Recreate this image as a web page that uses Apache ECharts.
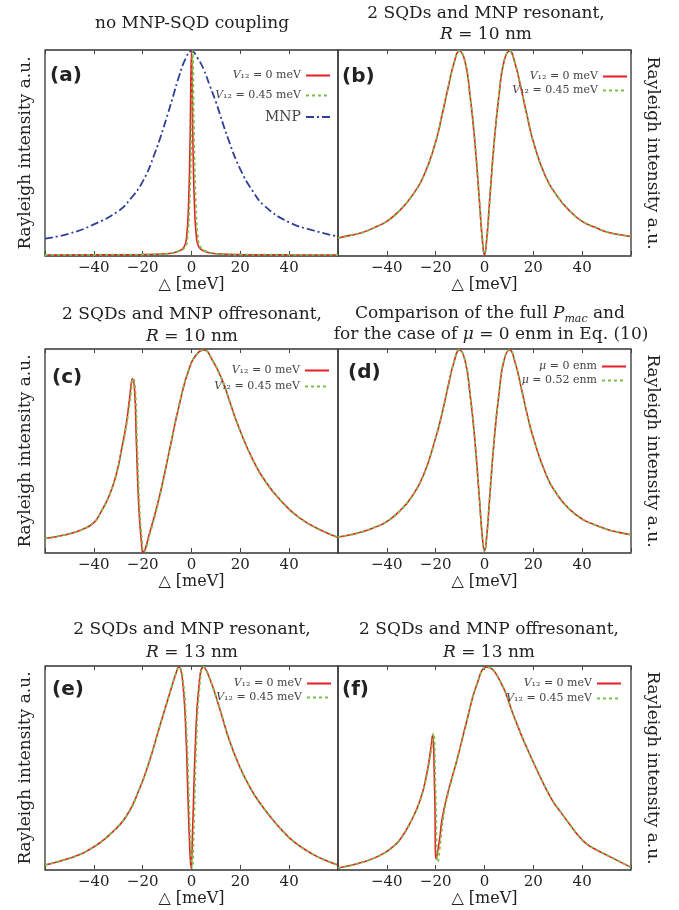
<!DOCTYPE html>
<html>
<head>
<meta charset="utf-8">
<script src="https://cdn.jsdelivr.net/npm/echarts/dist/echarts.min.js"></script>
<style>
  html, body { margin: 0; padding: 0; background: #fff; }
  #chart { width: 679px; height: 910px; }
</style>
</head>
<body>
<div id="chart"></div>
<script>
// (a) no coupling
const aRedX   = [-60, -40, -20, -10, -5, -3, -2, -1.2, -0.6, 0, 0.6, 1.2, 2, 3, 5, 10, 20, 40, 60];
const aRed    = [0, 0.001, 0.002, 0.006, 0.02, 0.04, 0.09, 0.25, 0.55, 1, 0.55, 0.25, 0.09, 0.04, 0.02, 0.006, 0.002, 0.001, 0];
const aGreenX = [-60, -40, -20, -10, -5, -2.6, -1.6, -0.8, -0.1, 0.5, 1.1, 1.8, 2.6, 3.6, 5.6, 10, 20, 40, 60];
const aGreen  = [0, 0.001, 0.002, 0.006, 0.02, 0.04, 0.09, 0.25, 0.55, 1, 0.55, 0.25, 0.09, 0.04, 0.02, 0.006, 0.002, 0.001, 0];
const aMnpX   = [-60, -50, -40, -30, -25, -20, -15, -10, -7.5, -5, -2.5, 0, 2.5, 5, 7.5, 10, 15, 20, 25, 30, 40, 50, 60];
const aMnp    = [0.08, 0.105, 0.15, 0.215, 0.275, 0.36, 0.5, 0.68, 0.78, 0.88, 0.96, 1, 0.965, 0.91, 0.83, 0.75, 0.57, 0.42, 0.315, 0.24, 0.16, 0.12, 0.09];

// (b) resonant, R = 10 nm
const bX     = [-60, -55, -50, -45, -40, -35, -30, -25, -20, -17.5, -15, -12.5, -10.3, -8, -6, -4, -2, -1, 0, 1, 2, 4, 6, 8, 10.3, 12.5, 15, 17.5, 20, 25, 30, 35, 40, 45, 50, 55, 60];
const bRed   = [0.083, 0.096, 0.11, 0.135, 0.165, 0.215, 0.285, 0.385, 0.555, 0.68, 0.815, 0.94, 1, 0.95, 0.79, 0.56, 0.25, 0.09, 0, 0.09, 0.25, 0.56, 0.79, 0.95, 1, 0.94, 0.815, 0.68, 0.555, 0.385, 0.285, 0.215, 0.165, 0.137, 0.113, 0.1, 0.09];
const bGreen = [0.083, 0.096, 0.11, 0.135, 0.165, 0.215, 0.285, 0.385, 0.555, 0.68, 0.815, 0.94, 1, 0.95, 0.79, 0.57, 0.26, 0.1, 0.005, 0.08, 0.24, 0.55, 0.79, 0.95, 1, 0.94, 0.815, 0.68, 0.555, 0.385, 0.285, 0.215, 0.165, 0.137, 0.113, 0.1, 0.09];

// (c) offresonant, R = 10 nm
const cRedX   = [-60, -51, -45, -40, -37, -33.5, -30.7, -28.7, -26.7, -25.3, -24.2, -23.3, -22.6, -21.6, -20.5, -19.9, -17.1, -13.1, -9, -4.9, -0.8, 2.6, 5, 8.7, 12.8, 15.5, 19.6, 25, 30.5, 37.3, 44.1, 52.2, 60];
const cRed    = [0.067, 0.087, 0.11, 0.145, 0.2, 0.285, 0.39, 0.505, 0.636, 0.766, 0.858, 0.8, 0.554, 0.227, 0.047, 0, 0.096, 0.276, 0.505, 0.734, 0.913, 0.985, 1, 0.946, 0.845, 0.75, 0.61, 0.46, 0.345, 0.245, 0.17, 0.113, 0.072];
const cGreenX = [-60, -51, -45, -40, -37, -33.5, -30.7, -28.6, -26.5, -25.0, -23.9, -23.0, -22.3, -21.3, -20.2, -19.6, -16.9, -13.0, -9, -4.9, -0.8, 2.6, 5, 8.7, 12.8, 15.5, 19.6, 25, 30.5, 37.3, 44.1, 52.2, 60];
const cGreen  = [0.067, 0.087, 0.11, 0.145, 0.2, 0.285, 0.39, 0.505, 0.636, 0.766, 0.858, 0.8, 0.554, 0.227, 0.047, 0, 0.096, 0.276, 0.505, 0.734, 0.913, 0.985, 1, 0.946, 0.845, 0.75, 0.61, 0.46, 0.345, 0.245, 0.17, 0.113, 0.072];

// (d) mu comparison
const dX     = [-60, -55, -50, -45, -40, -35, -30, -25, -20, -17.5, -15, -12.5, -10.3, -8, -6, -4, -2, -1, 0, 1, 2, 4, 6, 8, 10.3, 12.5, 15, 17.5, 20, 25, 30, 35, 40, 45, 50, 55, 60];
const dRed   = [0.074, 0.085, 0.1, 0.122, 0.15, 0.2, 0.27, 0.38, 0.565, 0.68, 0.815, 0.94, 1, 0.95, 0.79, 0.56, 0.25, 0.09, 0.005, 0.09, 0.25, 0.56, 0.79, 0.95, 1, 0.94, 0.815, 0.68, 0.565, 0.39, 0.28, 0.21, 0.163, 0.135, 0.113, 0.097, 0.085];
const dGreen = [0.074, 0.085, 0.1, 0.122, 0.15, 0.2, 0.27, 0.38, 0.565, 0.68, 0.815, 0.94, 1, 0.95, 0.79, 0.56, 0.25, 0.09, 0.005, 0.09, 0.25, 0.56, 0.79, 0.95, 1, 0.94, 0.815, 0.68, 0.565, 0.39, 0.28, 0.21, 0.163, 0.135, 0.113, 0.097, 0.085];

// (e) resonant, R = 13 nm
const eRedX   = [-60, -55.5, -51.1, -46, -41.6, -37.5, -33.5, -26.7, -21.2, -17.1, -13.1, -9, -6.3, -5.2, -3.8, -2.4, -1.5, -0.8, -0.2, 0.5, 1.6, 3, 4.9, 7.3, 11.4, 15.5, 19.6, 23.7, 27.8, 34.6, 38, 41.4, 46, 50.9, 55.5, 60];
const eRed    = [0.02, 0.033, 0.049, 0.07, 0.098, 0.13, 0.17, 0.261, 0.4, 0.539, 0.703, 0.866, 0.972, 1, 0.948, 0.703, 0.376, 0.131, 0.005, 0.212, 0.621, 0.899, 1, 0.948, 0.8, 0.637, 0.51, 0.41, 0.33, 0.225, 0.18, 0.14, 0.1, 0.065, 0.04, 0.02];
const eGreenX = [-60, -55.5, -51.1, -46, -41.6, -37.5, -33.5, -26.7, -21.2, -17.1, -13.1, -9, -6.3, -5.1, -3.6, -2.1, -1.1, -0.4, 0.3, 1.0, 2.0, 3.3, 5.0, 7.3, 11.4, 15.5, 19.6, 23.7, 27.8, 34.6, 38, 41.4, 46, 50.9, 55.5, 60];
const eGreen  = [0.02, 0.033, 0.049, 0.07, 0.098, 0.13, 0.17, 0.261, 0.4, 0.539, 0.703, 0.866, 0.972, 1, 0.948, 0.703, 0.376, 0.131, 0.005, 0.212, 0.621, 0.899, 1, 0.948, 0.8, 0.637, 0.51, 0.41, 0.33, 0.225, 0.18, 0.14, 0.1, 0.065, 0.04, 0.02];

// (f) offresonant, R = 13 nm
const fRedX   = [-60, -55, -50.1, -45, -40.6, -37.5, -34.5, -30.4, -26.3, -23.6, -21.9, -21.3, -20.4, -19.8, -18.4, -17.4, -15.4, -11.3, -7.2, -3.1, 1, 6.4, 11.9, 16.6, 22.1, 27.6, 31, 34.4, 37.8, 41.2, 45, 50.7, 60];
const fRed    = [0.005, 0.017, 0.033, 0.055, 0.082, 0.11, 0.147, 0.229, 0.343, 0.474, 0.605, 0.662, 0.376, 0.049, 0.147, 0.245, 0.359, 0.539, 0.735, 0.915, 1, 0.93, 0.76, 0.62, 0.474, 0.343, 0.285, 0.229, 0.175, 0.131, 0.1, 0.065, 0.008];
const fGreenX = [-60, -55, -50.1, -45, -40.6, -37.5, -34.5, -30.4, -26.3, -23.5, -21.6, -20.9, -20.0, -19.1, -17.9, -17.0, -15.2, -11.3, -7.2, -3.1, 1, 6.4, 11.9, 16.6, 22.1, 27.6, 31, 34.4, 37.8, 41.2, 45, 50.7, 60];
const fGreen  = [0.005, 0.017, 0.033, 0.055, 0.082, 0.11, 0.147, 0.229, 0.343, 0.474, 0.605, 0.673, 0.38, 0.036, 0.147, 0.245, 0.359, 0.539, 0.735, 0.915, 1, 0.93, 0.76, 0.62, 0.474, 0.343, 0.285, 0.229, 0.175, 0.131, 0.1, 0.065, 0.008];

const FONT = 'DejaVu Serif';
const INK = '#222';
const RED = '#e61e25', GREEN = '#79c043', BLUE = '#2e3f99';

const grids = [
  { left: 45,  top: 50,  width: 293, height: 206 },
  { left: 338, top: 50,  width: 293, height: 206 },
  { left: 45,  top: 349, width: 293, height: 204 },
  { left: 338, top: 349, width: 293, height: 204 },
  { left: 45,  top: 666, width: 293, height: 204 },
  { left: 338, top: 666, width: 293, height: 204 }
].map(g => Object.assign({ show: true, borderColor: '#333', borderWidth: 1.3, outerBoundsMode: 'none' }, g));

function pts (xs, ys) {
  return xs.map((x, i) => [x, ys[i]]);
}

function tickLabel (v) {
  if (v === -60 || v === 60) return '';
  return v < 0 ? '\u2212' + Math.abs(v) : String(v);
}

let xAxes = [];
let yAxes = [];
grids.forEach((g, i) => {
  xAxes.push({
    type: 'value', gridIndex: i, min: -60, max: 60, interval: 20,
    name: '\u25B3 [meV]', nameLocation: 'middle', nameGap: 21, nameMoveOverlap: false,
    nameTextStyle: { fontFamily: FONT, fontSize: 16, color: INK },
    axisLine: { show: false },
    axisTick: { show: true, inside: true, length: 4, lineStyle: { color: '#444' } },
    axisLabel: { fontFamily: FONT, fontSize: 15, color: INK, margin: 5, formatter: tickLabel },
    splitLine: { show: false }
  });
  let right = i % 2 === 1;
  yAxes.push({
    type: 'value', gridIndex: i, min: -0.005, max: 1.005,
    position: right ? 'right' : 'left',
    name: 'Rayleigh intensity a.u.', nameLocation: 'middle',
    nameGap: right ? 13 : 11, nameRotate: right ? -90 : 90, nameMoveOverlap: false,
    nameTextStyle: { fontFamily: FONT, fontSize: 17, color: INK },
    axisLine: { show: false }, axisTick: { show: false },
    axisLabel: { show: false }, splitLine: { show: false }
  });
});
// top axes only for the small inward ticks
grids.forEach((g, i) => {
  xAxes.push({
    type: 'value', gridIndex: i, min: -60, max: 60, interval: 20, position: 'top',
    axisLine: { show: false },
    axisTick: { show: true, inside: true, length: 4, lineStyle: { color: '#444' } },
    axisLabel: { show: false }, splitLine: { show: false }
  });
});

function line (name, idx, data, color, type, width) {
  return {
    name: name, type: 'line', xAxisIndex: idx, yAxisIndex: idx,
    data: data, symbol: 'none', smooth: 0.5,
    lineStyle: { color: color, width: width, type: type },
    itemStyle: { color: color },
    animation: false
  };
}

const series = [
  line('MNP', 0, pts(aMnpX, aMnp), BLUE, [8, 3, 2, 3], 1.8),
  line('V0', 0, pts(aRedX, aRed), RED, 'solid', 1.6),
  line('V45', 0, pts(aGreenX, aGreen), GREEN, [3, 3], 1.8),
  line('V0', 1, pts(bX, bRed), RED, 'solid', 1.6),
  line('V45', 1, pts(bX, bGreen), GREEN, [3, 3], 1.8),
  line('V0', 2, pts(cRedX, cRed), RED, 'solid', 1.6),
  line('V45', 2, pts(cGreenX, cGreen), GREEN, [3, 3], 1.8),
  line('mu0', 3, pts(dX, dRed), RED, 'solid', 1.6),
  line('mu52', 3, pts(dX, dGreen), GREEN, [3, 3], 1.8),
  line('V0', 4, pts(eRedX, eRed), RED, 'solid', 1.6),
  line('V45', 4, pts(eGreenX, eGreen), GREEN, [3, 3], 1.8),
  line('V0', 5, pts(fRedX, fRed), RED, 'solid', 1.6),
  line('V45', 5, pts(fGreenX, fGreen), GREEN, [3, 3], 1.8)
];

const legendText = {
  V0: '{i|V}\u2081\u2082 = 0 meV',
  V45: '{i|V}\u2081\u2082 = 0.45 meV',
  MNP: '{m|MNP}',
  mu0: '{i|\u03BC} = 0 enm',
  mu52: '{i|\u03BC} = 0.52 enm'
};

function legend (names, top, right, gap) {
  return {
    data: names, top: top, right: right, orient: 'vertical', align: 'right',
    padding: 0, itemGap: gap, itemWidth: 24, itemHeight: 10, selectedMode: false,
    itemStyle: { opacity: 0 },
    lineStyle: { width: 2 },
    formatter: n => legendText[n],
    textStyle: {
      fontFamily: FONT, fontSize: 11, color: '#444',
      rich: {
        i: { fontFamily: FONT, fontSize: 11, fontStyle: 'italic', color: '#444' },
        m: { fontFamily: FONT, fontSize: 14, color: '#444' }
      }
    }
  };
}

const legends = [
  legend(['V0', 'V45', 'MNP'], 70, 348, 9),
  legend(['V0', 'V45'], 71, 51, 3),
  legend(['V0', 'V45'], 365, 349, 5),
  legend(['mu0', 'mu52'], 361, 52, 3),
  legend(['V0', 'V45'], 678, 347, 3),
  legend(['V0', 'V45'], 678, 57, 4)
];

const richTitle = {
  i: { fontFamily: FONT, fontSize: 17, fontStyle: 'italic', color: INK },
  sub: { fontFamily: FONT, fontSize: 11, fontStyle: 'italic', color: INK, verticalAlign: 'bottom', lineHeight: 12 }
};

function title (text, cx, cy) {
  return {
    text: text, left: cx, top: cy, textAlign: 'center', textVerticalAlign: 'middle', padding: 0,
    textStyle: { fontFamily: FONT, fontSize: 17, fontWeight: 'normal', color: INK, lineHeight: 22, rich: richTitle }
  };
}

function tag (text, x, cy) {
  return {
    text: text, left: x, top: cy, textAlign: 'left', textVerticalAlign: 'middle', padding: 0,
    textStyle: { fontFamily: 'DejaVu Sans', fontSize: 20, fontWeight: 'bold', color: INK }
  };
}

const titles = [
  title('no MNP-SQD coupling', 192, 24),
  title('2 SQDs and MNP resonant,', 486, 14),
  title('{i|R} = 10 nm', 486, 35),
  title('2 SQDs and MNP offresonant,', 192, 315),
  title('{i|R} = 10 nm', 192, 337),
  title('Comparison of the full {i|P}{sub|mac} and', 490, 314),
  title('for the case of {i|\u03BC} = 0 enm in Eq. (10)', 491, 335),
  title('2 SQDs and MNP resonant,', 192, 630),
  title('{i|R} = 13 nm', 192, 653),
  title('2 SQDs and MNP offresonant,', 489, 630),
  title('{i|R} = 13 nm', 489, 653),
  tag('(a)', 50, 76),
  tag('(b)', 342, 77),
  tag('(c)', 52, 378),
  tag('(d)', 348, 373),
  tag('(e)', 52, 690),
  tag('(f)', 342, 690)
];

const chart = echarts.init(document.getElementById('chart'));
chart.setOption({
  backgroundColor: '#fff',
  animation: false,
  title: titles,
  legend: legends,
  grid: grids,
  xAxis: xAxes,
  yAxis: yAxes,
  series: series
});
</script>
</body>
</html>
